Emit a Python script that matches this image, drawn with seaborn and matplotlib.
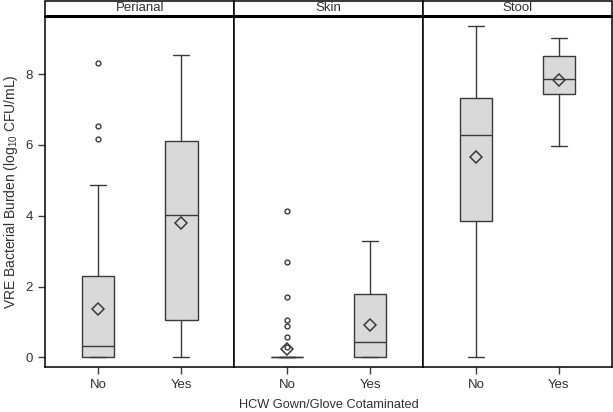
import numpy as np
import pandas as pd
import matplotlib
matplotlib.use('Agg')
import matplotlib.pyplot as plt
from matplotlib.patches import Rectangle
import seaborn as sns

# 汇总统计量
sites = ['Perianal', 'Skin', 'Stool']
groups = ['No', 'Yes']
whislo = [0.0, 0.0, 0.0, 0.0, 0.0, 5.98]
q1 = [0.0, 1.05, 0.0, 0.0, 3.86, 7.44]
med = [0.32, 4.01, 0.0, 0.45, 6.29, 7.86]
q3 = [2.30, 6.11, 0.0, 1.80, 7.33, 8.50]
whishi = [4.86, 8.53, 0.0, 3.29, 9.36, 9.01]
means = [1.36, 3.81, 0.25, 0.93, 5.65, 7.83]
fliers = [[8.31, 6.54, 6.16], [],
          [4.13, 2.69, 1.72, 1.05, 0.90, 0.59, 0.30], [],
          [], []]

sns.set_style('ticks')
plt.rcParams['font.family'] = ['Liberation Sans', 'DejaVu Sans']
plt.rcParams['mathtext.fontset'] = 'custom'
plt.rcParams['mathtext.rm'] = 'Liberation Sans'

edge = '#3a3a3a'
txt = '#303030'

fig, axes = plt.subplots(1, 3, sharey=True, figsize=(6.13, 4.12), dpi=100)
fig.subplots_adjust(left=0.074, right=0.998, bottom=0.110, top=0.961, wspace=0)

for i, (ax, site) in enumerate(zip(axes, sites)):
    stats = []
    for j, grp in enumerate(groups):
        k = i * 2 + j
        stats.append(dict(label=grp, whislo=whislo[k], q1=q1[k], med=med[k],
                          q3=q3[k], whishi=whishi[k], mean=means[k],
                          fliers=fliers[k]))
    ax.bxp(stats, positions=[1, 2], widths=0.39, patch_artist=True,
           showmeans=True, capwidths=0.19,
           boxprops=dict(facecolor='#d9d9d9', edgecolor=edge, linewidth=1),
           medianprops=dict(color=edge, linewidth=1),
           whiskerprops=dict(color=edge, linewidth=1),
           capprops=dict(color=edge, linewidth=1),
           flierprops=dict(marker='o', markersize=3.5, markerfacecolor='none',
                           markeredgecolor=edge, markeredgewidth=1),
           meanprops=dict(marker='D', markersize=6.5, markerfacecolor='none',
                          markeredgecolor=edge, markeredgewidth=1.1))
    ax.set_xlim(0.364, 2.636)
    ax.set_ylim(-0.26, 9.64)
    ax.set_yticks([0, 2, 4, 6, 8])
    ax.tick_params(axis='both', direction='out', length=5, width=1,
                   color=edge, labelcolor=txt, labelsize=9.5, pad=4)
    for sp in ax.spines.values():
        sp.set_visible(True)
        sp.set_color('black')
        sp.set_linewidth(1.1)
    if i > 0:
        ax.tick_params(axis='y', left=False)
    # 面板标题条
    h = 16 / (412 * (0.961 - 0.110))
    ax.add_patch(Rectangle((0, 1), 1, h * 0.97, transform=ax.transAxes,
                           facecolor='white', edgecolor='black',
                           linewidth=1.1, clip_on=False))
    ax.plot([0, 1], [1, 1], transform=ax.transAxes, color='black',
            linewidth=2.2, clip_on=False)
    ax.text(0.5, 1 + h / 2, site, transform=ax.transAxes, ha='center',
            va='center', fontsize=9.5, color=txt)

axes[0].set_ylabel('VRE Bacterial Burden (log$_{10}$ CFU/mL)',
                   fontsize=10, color=txt, labelpad=4)
fig.text(0.536, 0.003, 'HCW Gown/Glove Cotaminated', ha='center',
         va='bottom', fontsize=9.2, color=txt)

fig.savefig('out.png', dpi=100)
